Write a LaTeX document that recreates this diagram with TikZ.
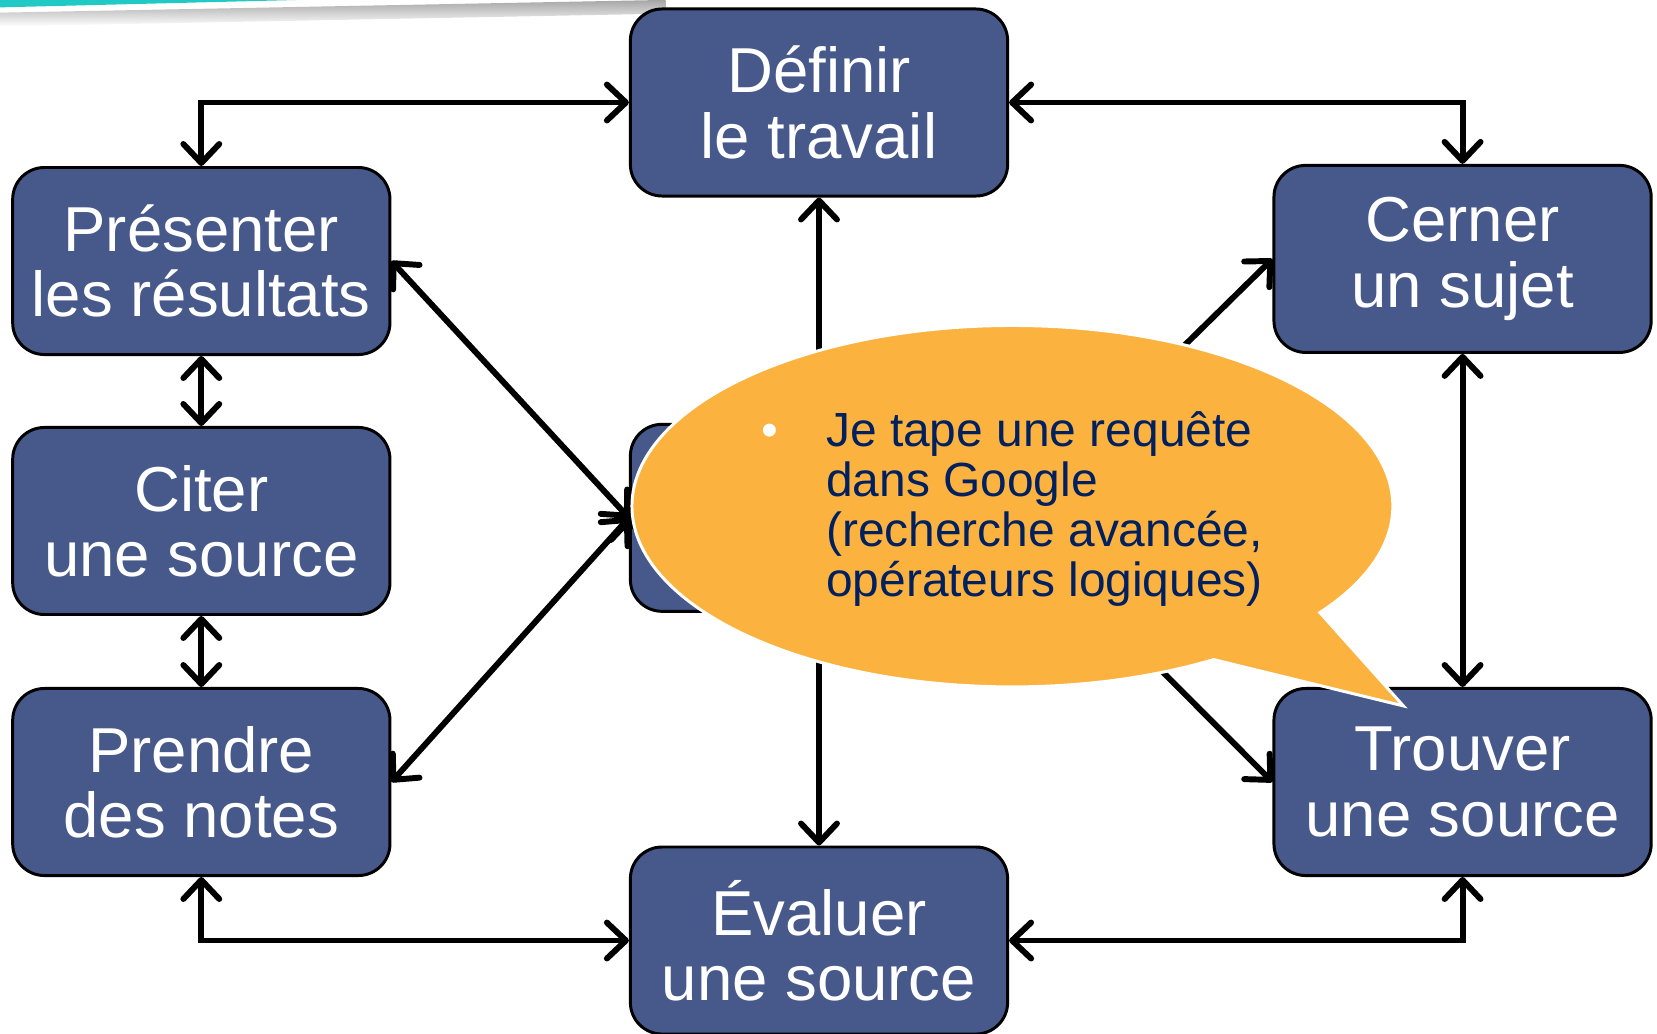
\documentclass[tikz,border=0pt]{standalone}
\usepackage{fontspec}
\setmainfont{Liberation Sans}
\usetikzlibrary{arrows.meta,shapes.callouts}

\definecolor{bleuetape}{RGB}{71,89,139}
\definecolor{orangebulle}{RGB}{251,178,62}
\definecolor{textebulle}{RGB}{0,32,96}
\definecolor{turquoise}{RGB}{32,201,196}

\tikzset{
  etape/.style = {shape = rectangle, rounded corners = 3mm, draw = black, line width = 0.8pt,
    fill = bleuetape, text = white, minimum width = 3.57cm, minimum height = 1.77cm,
    inner sep = 0pt, align = center, font = \fontsize{17.1}{17.6}\selectfont},
  bulle/.style = {shape = ellipse callout, fill = orangebulle, draw = white, line width = 0.8pt,
    minimum width = 7.2cm, minimum height = 3.42cm, inner sep = 0pt,
    callout pointer arc = 22, text = textebulle, font = \fontsize{12.9}{13.4}\selectfont},
  lien/.style = {line width = 1.6pt, >={Straight Barb[length=1.8mm, width=3.4mm, round]}},
}

\begin{document}
\begin{tikzpicture}
        \useasboundingbox (0, 0) rectangle (15.68, 9.78);

        % ------------------------------------------------------------------------
        % Bandeau
        \shade[top color = gray!70, bottom color = white, rotate around = {1.1:(0, 9.6)}]
          (0, 9.53) rectangle (6.3, 9.66);
        \fill[turquoise] (0, 9.78) -- (2.81, 9.78) -- (0, 9.71) -- cycle;

        % ------------------------------------------------------------------------
        % Etapes
        \node[etape] at ( 7.75,  8.81) (def)     {Définir\\le travail};
        \node[etape] at ( 1.905, 7.31) (pres)    {Présenter\\les résultats};
        \node[etape] at ( 1.905, 4.85) (citer)   {Citer\\une source};
        \node[etape] at ( 1.905, 2.38) (notes)   {Prendre\\des notes};
        \node[etape] at ( 7.75,  4.88) (centre)  {};
        \node[etape] at (13.84,  7.33) (sujet)   {Cerner\\un sujet};
        \node[etape] at (13.84,  2.38) (trouver) {Trouver\\une source};
        \node[etape] at ( 7.75,  0.88) (evaluer) {Évaluer\\une source};

        % ------------------------------------------------------------------------
        % Liens
        \draw[lien, <->] (def.west) -| (pres.north);
        \draw[lien, <->] (def.east) -| (sujet.north);
        \draw[lien, <->] (notes.south) |- (evaluer.west);
        \draw[lien, <->] (trouver.south) |- (evaluer.east);

        \draw[lien, <->]
          (pres) edge (citer)
          (citer) edge (notes)
          (sujet) edge (trouver)
          (centre.west) edge (pres.east)
          (centre.west) edge (notes.east)
        ;
        \draw[lien, ->]
          (centre) edge (def)
          (centre) edge (evaluer)
          (centre.east) edge (sujet.west)
          (centre.east) edge (trouver.west)
        ;

        % ------------------------------------------------------------------------
        % Bulle
        \coordinate (pointe) at (13.28, 3.10);
        \node[bulle, callout absolute pointer = {(pointe)}] at (9.58, 4.99) (requete) {%
          \begin{tabular}{@{}l@{\hspace{4.5mm}}l@{}}
            \noalign{\vspace{1mm}}
            \textcolor{white}{\textbullet} & Je tape une requête\\
                                           & dans Google\\
                                           & (recherche avancée,\\
                                           & opérateurs logiques)
          \end{tabular}};
\end{tikzpicture}
\end{document}
